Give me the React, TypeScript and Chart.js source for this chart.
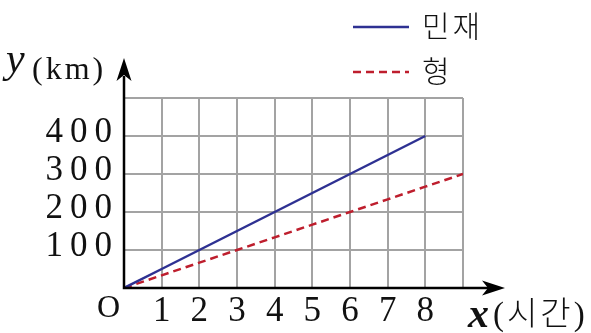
import React, { useEffect, useRef } from 'react';
import { Chart, registerables } from 'chart.js';

Chart.register(...registerables);

const hours = [0, 1, 2, 3, 4, 5, 6, 7, 8, 9];
const minjaeKm = [0, 50, 100, 150, 200, 250, 300, 350, 400, null];
const hyungKm = [0, 33.3, 66.7, 100, 133.3, 166.7, 200, 233.3, 266.7, 300];
const xTickLabels = ['', '1', '2', '3', '4', '5', '6', '7', '8', ''];
const yTickValues = [0, 100, 200, 300, 400, 500];
const yTickLabels = ['', '100', '200', '300', '400', ''];
const seriesNames = ['민재', '형'];

const SERIF = '"Liberation Serif"';
const KR = '"Noto Sans CJK KR"';
const spaced = (s: string) => s.split('').join('\u2009');

const decorPlugin = {
  id: 'decor',
  afterDatasetsDraw(chart: any) {
    const ctx = chart.ctx as any;
    ctx.save();
    const xs = chart.scales.x;
    const ys = chart.scales.y;
    const ox = xs.getPixelForValue(0);
    const oy = ys.getPixelForValue(0);

    // axes
    ctx.strokeStyle = '#000';
    ctx.fillStyle = '#000';
    ctx.lineWidth = 2.5;
    ctx.beginPath();
    ctx.moveTo(ox, oy + 1.2);
    ctx.lineTo(ox, 76);
    ctx.moveTo(ox - 1.2, oy);
    ctx.lineTo(488, oy);
    ctx.stroke();
    // y arrow
    ctx.beginPath();
    ctx.moveTo(ox, 58);
    ctx.lineTo(ox + 7.5, 81);
    ctx.lineTo(ox, 75);
    ctx.lineTo(ox - 7.5, 81);
    ctx.closePath();
    ctx.fill();
    // x arrow
    ctx.beginPath();
    ctx.moveTo(505, oy);
    ctx.lineTo(482, oy - 7.5);
    ctx.lineTo(488, oy);
    ctx.lineTo(482, oy + 7.5);
    ctx.closePath();
    ctx.fill();

    ctx.textAlign = 'left';
    ctx.textBaseline = 'alphabetic';
    ctx.fillStyle = '#111';
    // origin label
    ctx.font = `32px ${SERIF}`;
    ctx.fillText('O', 97, 317);

    // y axis title
    ctx.font = `italic 42px ${SERIF}`;
    ctx.fillText('y', 6, 72);
    ctx.letterSpacing = '3px';
    ctx.font = `32px ${SERIF}`;
    ctx.fillText('(km)', 32, 79);

    // x axis title
    ctx.letterSpacing = '0px';
    ctx.font = `italic bold 42px ${SERIF}`;
    ctx.fillText('x', 468, 327);
    ctx.letterSpacing = '3px';
    ctx.font = `300 33px ${SERIF}, ${KR}`;
    ctx.fillText('(시간)', 493, 325);

    // legend
    ctx.letterSpacing = '3px';
    const ds = chart.data.datasets;
    const rows = [27, 72];
    ds.forEach((d: any, i: number) => {
      ctx.beginPath();
      ctx.strokeStyle = d.borderColor;
      ctx.lineWidth = 2.5;
      ctx.setLineDash(d.borderDash || []);
      ctx.moveTo(353, rows[i]);
      ctx.lineTo(409, rows[i]);
      ctx.stroke();
      ctx.setLineDash([]);
      ctx.fillStyle = '#111';
      ctx.font = `300 30px ${KR}`;
      ctx.textBaseline = 'middle';
      ctx.fillText(seriesNames[i], 422, rows[i] - 1);
    });
    ctx.restore();
  },
};

export default function App() {
  const ref = useRef<HTMLCanvasElement | null>(null);
  useEffect(() => {
    if (!ref.current) return;
    const minjaeData = hours
      .map((h, i) => ({ x: h, y: minjaeKm[i] }))
      .filter((p) => p.y !== null);
    const hyungData = hours.map((h, i) => ({ x: h, y: hyungKm[i] }));
    const chart = new Chart(ref.current, {
      type: 'line',
      data: {
        datasets: [
          {
            label: seriesNames[0],
            data: minjaeData as any,
            borderColor: '#2e3192',
            borderWidth: 2.5,
            pointRadius: 0,
            tension: 0,
          },
          {
            label: seriesNames[1],
            data: hyungData as any,
            borderColor: '#be1e2d',
            borderWidth: 2.5,
            borderDash: [8, 5],
            pointRadius: 0,
            tension: 0,
          },
        ],
      },
      options: {
        responsive: false,
        animation: false,
        events: [],
        layout: { padding: { top: 98, right: 128, left: 0, bottom: 0 } },
        plugins: { legend: { display: false }, tooltip: { enabled: false } },
        scales: {
          x: {
            type: 'linear',
            min: 0,
            max: 9,
            afterFit: (s: any) => {
              s.height = 45;
            },
            afterBuildTicks: (s: any) => {
              s.ticks = hours.map((v) => ({ value: v }));
            },
            ticks: {
              autoSkip: false,
              maxRotation: 0,
              padding: 3,
              color: '#111',
              font: { family: SERIF, size: 35 },
              callback: (v: any) => xTickLabels[hours.indexOf(Number(v))] ?? '',
            },
            grid: { color: '#a3a3a3', lineWidth: 2, drawTicks: false },
            border: { display: false },
          },
          y: {
            type: 'linear',
            min: 0,
            max: 500,
            afterFit: (s: any) => {
              s.width = 124;
            },
            afterBuildTicks: (s: any) => {
              s.ticks = yTickValues.map((v) => ({ value: v }));
            },
            ticks: {
              autoSkip: false,
              padding: 12,
              labelOffset: -3,
              color: '#111',
              font: { family: SERIF, size: 35 },
              callback: (v: any) => spaced(yTickLabels[yTickValues.indexOf(Number(v))] ?? ''),
            },
            grid: { color: '#a3a3a3', lineWidth: 2, drawTicks: false },
            border: { display: false },
          },
        },
      },
      plugins: [decorPlugin],
    });
    return () => chart.destroy();
  }, []);
  return (
    <div style={{ position: 'absolute', left: 0, top: 0, width: 591, height: 333, background: '#fff' }}>
      <canvas ref={ref} width={591} height={333} />
    </div>
  );
}
